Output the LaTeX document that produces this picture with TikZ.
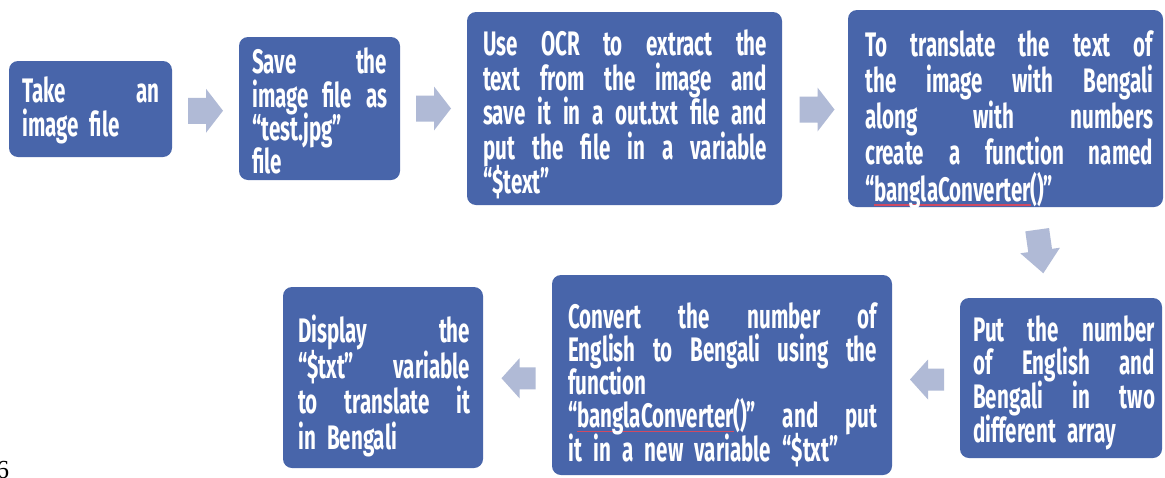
\documentclass[tikz,border=0pt]{standalone}
\usepackage{fontspec}
\setmainfont{Fira Sans}[FakeStretch=0.605]
\newfontfamily\numfont{Liberation Serif}
\usetikzlibrary{calc}

\definecolor{boxblue}{HTML}{4865AA}
\definecolor{arrowgray}{HTML}{B0BAD6}
\definecolor{spellred}{HTML}{D04A62}

% a justified line inside a step text
\newcommand\jline[1]{\leavevmode\hbox to\hsize{\spaceskip=.25em plus 20em\relax #1}\\}
% a line at its natural width
\newcommand\nline[1]{\leavevmode\hbox{#1}}
% red spell-check mark under a word
\newsavebox\spellbox
\newcommand\spellmark[1]{\sbox\spellbox{#1}%
  \rlap{\textcolor{spellred}{\rule[-4.5pt]{\wd\spellbox}{1.3pt}}}\usebox\spellbox}
% tight leading, whatever the glyph heights
\newcommand\tightlines{\lineskiplimit=-100pt\relax\lineskip=0pt\relax}

\tikzset{
  stepbox/.style={rectangle, rounded corners=9pt, fill=boxblue, inner sep=0pt},
  steptext/.style={anchor=north west, inner sep=0pt, text=white, align=left,
    execute at begin node=\tightlines},
  lead/.style={font={\bfseries\fontsize{34}{#1}\selectfont}},
  flowarrow/.style={fill=arrowgray},
  pics/blockarrow/.style args={#1/#2/#3/#4}{code={
    \fill[flowarrow] ({-#1/2},{-#3/2}) -- ({#1/2-#2},{-#3/2}) -- ({#1/2-#2},{-#4/2})
      -- ({#1/2},0) -- ({#1/2-#2},{#4/2}) -- ({#1/2-#2},{#3/2}) -- ({-#1/2},{#3/2}) -- cycle;
  }},
}

\begin{document}
\begin{tikzpicture}[x=1pt,y=-1pt]
\clip (0,0) rectangle (1165,477);
\fill[white] (0,0) rectangle (1165,477);

% step boxes: top row left to right, bottom row right to left
\node[stepbox, minimum width=163pt, minimum height=96pt]  (n1) at (90.5,109)   {};
\node[stepbox, minimum width=161pt, minimum height=143pt] (n2) at (319.5,108.5) {};
\node[stepbox, minimum width=315pt, minimum height=193pt] (n3) at (624.5,108.5) {};
\node[stepbox, minimum width=315pt, minimum height=197pt] (n4) at (1005.5,108.5) {};
\node[stepbox, minimum width=202pt, minimum height=160pt] (n5) at (1061,378)   {};
\node[stepbox, minimum width=340pt, minimum height=200pt] (n6) at (722,375)    {};
\node[stepbox, minimum width=200pt, minimum height=181pt] (n7) at (383,377.5)  {};

% step texts
\node[steptext, lead=34, text width=137pt] (t1) at (22,76)
  {\jline{Take an}image file};
\node[steptext, lead=33.3, text width=135pt] (t2) at (252,48)
  {\jline{Save the}\jline{image file as}“test.jpg”\\file};
\node[steptext, lead=34.5, text width=284pt] (t3) at (483,30)
  {\jline{Use OCR to extract the}\jline{text from the image and}\jline{save it in a out.txt file and}\jline{put the file in a variable}“\$text”};
\node[steptext, lead=36.3, text width=288pt] (t4) at (865,30)
  {\jline{To translate the text of}\jline{the image with Bengali}\jline{along with numbers}\jline{create a function named}\nline{“\spellmark{banglaConverter}()”}};
\node[steptext, lead=33.8, text width=182pt] (t5) at (973,315)
  {\jline{Put the number}\jline{of English and}\jline{Bengali in two}different array};
\node[steptext, lead=33.3, text width=309pt] (t6) at (568,302)
  {\jline{Convert the number of}\jline{English to Bengali using the}function\\\jline{“\spellmark{banglaConverter}()” and put}it in a new variable “\$txt”};
\node[steptext, lead=35.5, text width=172pt] (t7) at (298,315)
  {\jline{Display the}\jline{“\$txt” variable}\jline{to translate it}in Bengali};

% block arrows between the steps
\pic at ($(n1.east)!0.5!(n2.west)+(0,2)$) {blockarrow=35/17/26/44};
\pic at ($(n2.east)!0.5!(n3.west)$) {blockarrow=35/17/26/44};
\pic at ($(n3.east)!0.5!(n4.west)+(2,1)$) {blockarrow=35/17/26/44};
\pic[rotate=-82] at ($(n4.south)!0.5!(n5.north)+(7,-1)$) {blockarrow=44/23/24/40};
\pic[rotate=180] at ($(n5.west)!0.5!(n6.east)+(1,3)$) {blockarrow=34/18/22/40};
\pic[rotate=180] at ($(n6.west)!0.5!(n7.east)+(1,2)$) {blockarrow=34/18/22/40};

% page number, cut by the lower edge
\node[font=\numfont\fontsize{26}{26}\selectfont, anchor=north west, inner sep=0pt] (pagenum) at (-4,461) {6};
\end{tikzpicture}
\end{document}
